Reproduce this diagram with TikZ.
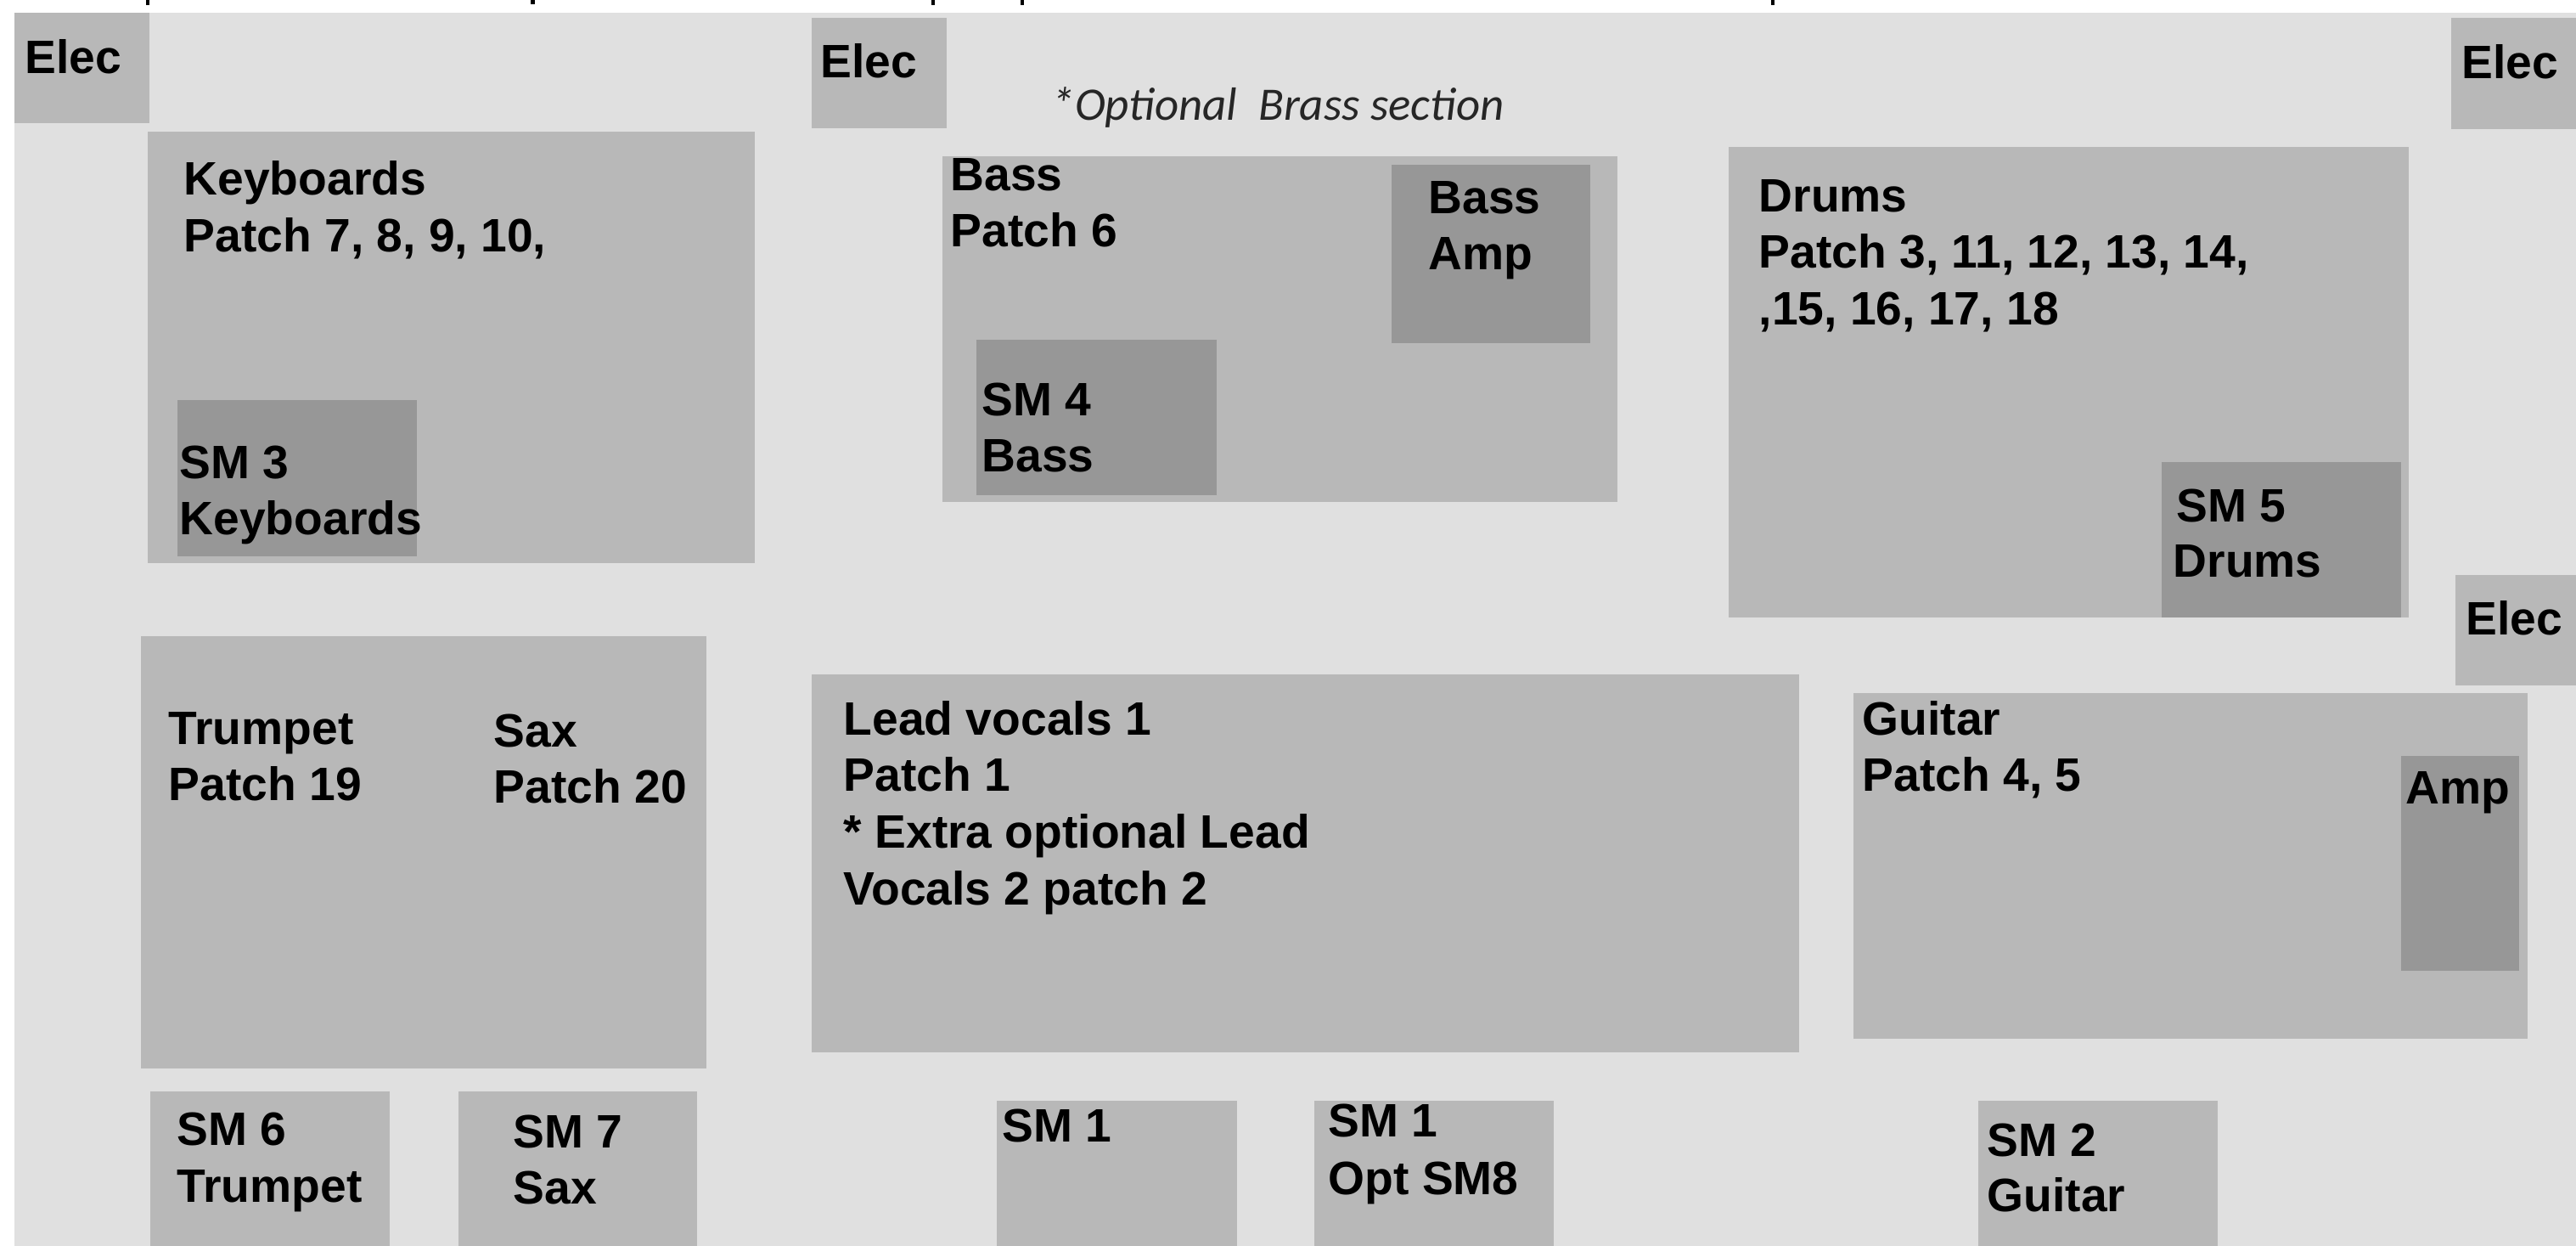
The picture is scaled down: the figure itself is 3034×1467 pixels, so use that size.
\documentclass[tikz,border=0pt]{standalone}
\usepackage{fontspec}
\setmainfont{Liberation Sans}
\newfontfamily\calfont{Carlito}
\definecolor{bgcol}{HTML}{E0E0E0}
\definecolor{boxcol}{HTML}{B8B8B8}
\definecolor{darkcol}{HTML}{979797}
\tikzset{
  lbl/.style={anchor=base west, inner sep=0pt, text=black,
    font=\bfseries\fontsize{15.7pt}{18pt}\selectfont},
  note/.style={anchor=base west, inner sep=0pt, text=black!85,
    font=\calfont\itshape\fontsize{15.6pt}{18pt}\selectfont},
  boxfill/.style={fill=boxcol},
  darkfill/.style={fill=darkcol}
}
\begin{document}
\begin{tikzpicture}[x=0.01cm,y=-0.01cm]
\useasboundingbox (0,0) rectangle (3034,1467);
\fill[white] (0,0) rectangle (3034,1467);
% cut-off descenders of the line above
\fill[black] (172,0) rectangle (176,6);
\fill[black] (625,0) rectangle (630,5);
\fill[black] (1097,0) rectangle (1101,6);
\fill[black] (1202,0) rectangle (1206,6);
\fill[black] (2086,0) rectangle (2090,6);
% stage background
\fill[bgcol] (17,15) rectangle (3034,1467);
% light boxes
\fill[boxfill] (17,15) rectangle (176,145);
\fill[boxfill] (956,21) rectangle (1115,151);
\fill[boxfill] (2887,21) rectangle (3034,152);
\fill[boxfill] (2892,677) rectangle (3034,807);
\fill[boxfill] (174,155) rectangle (889,663);
\fill[boxfill] (1110,184) rectangle (1905,591);
\fill[boxfill] (2036,173) rectangle (2837,727);
\fill[boxfill] (166,749) rectangle (832,1258);
\fill[boxfill] (956,794) rectangle (2119,1239);
\fill[boxfill] (2183,816) rectangle (2977,1223);
\fill[boxfill] (177,1285) rectangle (459,1467);
\fill[boxfill] (540,1285) rectangle (821,1467);
\fill[boxfill] (1174,1296) rectangle (1457,1467);
\fill[boxfill] (1548,1296) rectangle (1830,1467);
\fill[boxfill] (2330,1296) rectangle (2612,1467);
% dark boxes
\fill[darkfill] (209,471) rectangle (491,655);
\fill[darkfill] (1639,194) rectangle (1873,404);
\fill[darkfill] (1150,400) rectangle (1433,583);
\fill[darkfill] (2546,544) rectangle (2828,727);
\fill[darkfill] (2828,890) rectangle (2967,1143);
% texts
\node[lbl] (elec1) at (29,87) {Elec};
\node[lbl] (elec2) at (966,92) {Elec};
\node[lbl] (elec3) at (2899,93) {Elec};
\node[lbl] (elec4) at (2904,747) {Elec};
\node[note] (brass) at (1238,142) {*Optional\ \ Brass section};
\node[lbl] (kb1) at (216,230) {Keyboards};
\node[lbl] (kb2) at (216,297) {Patch 7, 8, 9, 10,};
\node[lbl] (sm3a) at (211,563) {SM 3};
\node[lbl] (sm3b) at (211,629) {Keyboards};
\node[lbl] (bass1) at (1119,225) {Bass};
\node[lbl] (bass2) at (1119,291) {Patch 6};
\node[lbl] (amp1) at (1682,252) {Bass};
\node[lbl] (amp2) at (1682,318) {Amp};
\node[lbl] (sm4a) at (1156,489) {SM 4};
\node[lbl] (sm4b) at (1156,555) {Bass};
\node[lbl] (dr1) at (2071,250) {Drums};
\node[lbl] (dr2) at (2071,316) {Patch 3, 11, 12, 13, 14,};
\node[lbl] (dr3) at (2071,383) {,15, 16, 17, 18};
\node[lbl] (sm5a) at (2563,614) {SM 5};
\node[lbl] (sm5b) at (2559,679) {Drums};
\node[lbl] (tr1) at (198,876) {Trumpet};
\node[lbl] (tr2) at (198,942) {Patch 19};
\node[lbl] (sx1) at (581,879) {Sax};
\node[lbl] (sx2) at (581,945) {Patch 20};
\node[lbl] (ld1) at (993,865) {Lead vocals 1};
\node[lbl] (ld2) at (993,931) {Patch 1};
\node[lbl] (ld3) at (993,998) {* Extra optional Lead};
\node[lbl] (ld4) at (993,1065) {Vocals 2 patch 2};
\node[lbl] (gt1) at (2193,865) {Guitar};
\node[lbl] (gt2) at (2193,931) {Patch 4, 5};
\node[lbl] (gamp) at (2833,946) {Amp};
\node[lbl] (sm6a) at (208,1348) {SM 6};
\node[lbl] (sm6b) at (208,1415) {Trumpet};
\node[lbl] (sm7a) at (604,1351) {SM 7};
\node[lbl] (sm7b) at (604,1417) {Sax};
\node[lbl] (sm1) at (1180,1344) {SM 1};
\node[lbl] (sm1o1) at (1564,1338) {SM 1};
\node[lbl] (sm1o2) at (1564,1406) {Opt SM8};
\node[lbl] (sm2a) at (2340,1361) {SM 2};
\node[lbl] (sm2b) at (2340,1426) {Guitar};
\end{tikzpicture}
\end{document}
